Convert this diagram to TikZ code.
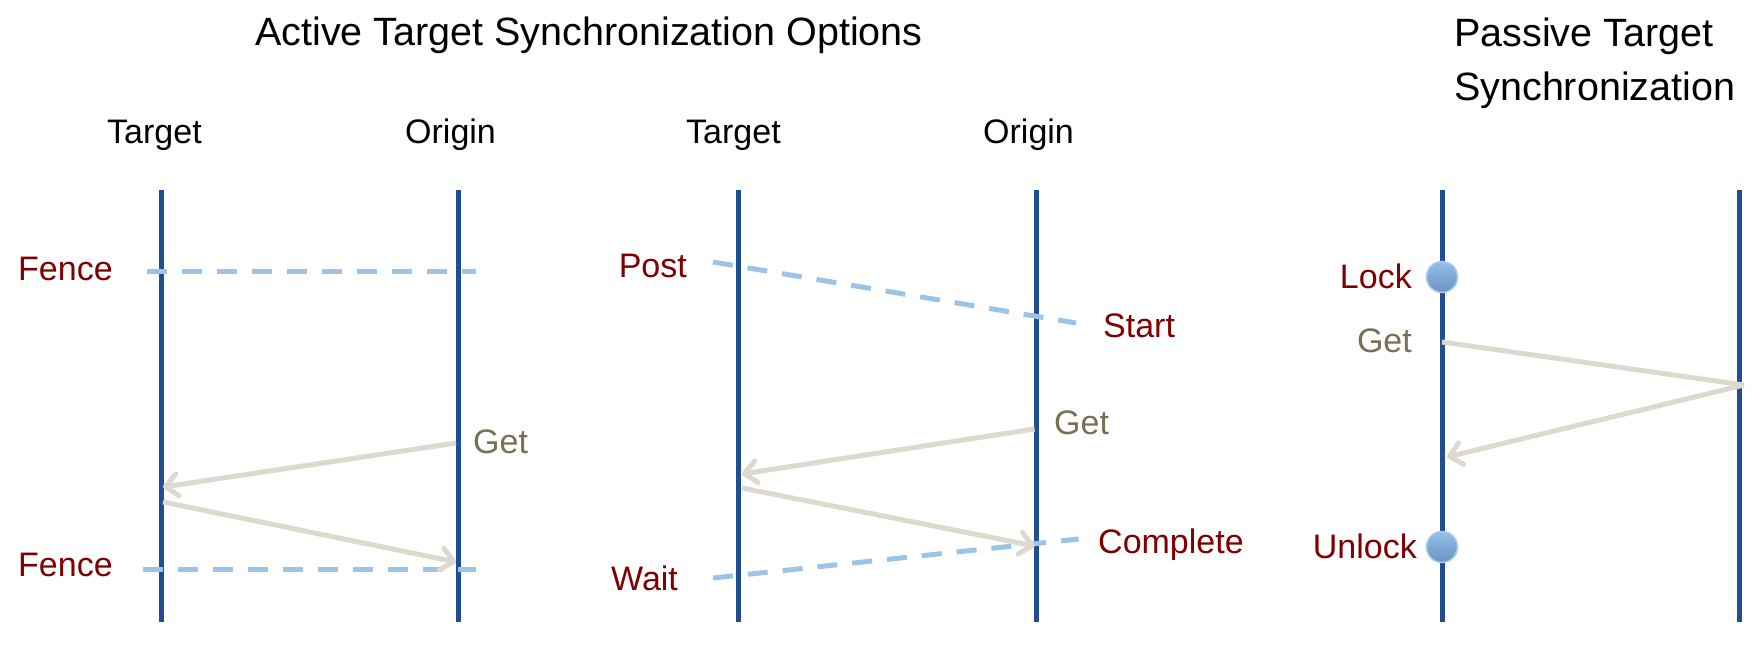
\documentclass[tikz,border=0pt]{standalone}
\usepackage{fontspec}
\setmainfont{Liberation Sans}
\usetikzlibrary{arrows.meta}
\definecolor{lifeblue}{HTML}{1F4E93}
\definecolor{dashblue}{HTML}{9DC3E6}
\definecolor{msgtan}{HTML}{DDD9CE}
\definecolor{labred}{HTML}{7F0000}
\definecolor{getgray}{HTML}{777056}
\definecolor{balltop}{HTML}{92C0EA}
\definecolor{ballbot}{HTML}{6C94C2}
\definecolor{ballrim}{HTML}{A9CBEB}
\tikzset{
  lifeline/.style={draw=lifeblue, line width=5pt},
  syncline/.style={draw=dashblue, line width=5pt, dash pattern=on 20pt off 15pt},
  msg/.style={draw=msgtan, line width=5pt, -{Straight Barb[length=12pt,width=22pt,line cap=round,line join=round]}},
  msgplain/.style={draw=msgtan, line width=5pt},
  titletext/.style={inner sep=0pt, font=\fontsize{39.5}{47}\selectfont},
  coltext/.style={inner sep=0pt, font=\fontsize{34}{41}\selectfont},
  synctext/.style={inner sep=0pt, text=labred, font=\fontsize{34}{41}\selectfont},
  gettext/.style={inner sep=0pt, text=getgray, font=\fontsize{34}{41}\selectfont},
  lockball/.style={circle, inner sep=0pt, minimum size=31pt, draw=ballrim, line width=1.5pt, top color=balltop, bottom color=ballbot}
}
\begin{document}
\begin{tikzpicture}[x=1pt,y=-1pt]
\useasboundingbox (0,0) rectangle (1759,647);
% titles
\node[titletext, anchor=base west] (t1) at (255,46) {Active Target Synchronization Options};
\node[titletext, anchor=base west] (t2a) at (1454,46.7) {Passive Target};
\node[titletext, anchor=base west] (t2b) at (1454,101) {Synchronization};
% column labels
\node[coltext, anchor=base west] (c1) at (107,144) {Target};
\node[coltext, anchor=base west] (c2) at (405,144) {Origin};
\node[coltext, anchor=base west] (c3) at (686,144) {Target};
\node[coltext, anchor=base west] (c4) at (983,144) {Origin};
% lifelines
\coordinate (a1t) at (161,190);   \coordinate (a1b) at (161,622);
\coordinate (a2t) at (458.5,190); \coordinate (a2b) at (458.5,622);
\coordinate (b1t) at (738.5,190); \coordinate (b1b) at (738.5,622);
\coordinate (b2t) at (1036.5,190);\coordinate (b2b) at (1036.5,622);
\coordinate (p1t) at (1442,190);  \coordinate (p1b) at (1442,622);
\coordinate (p2t) at (1739,190);  \coordinate (p2b) at (1739,622);
\foreach \t/\b in {a1t/a1b,a2t/a2b,b1t/b1b,b2t/b2b,p1t/p1b,p2t/p2b}
  \draw[lifeline] (\t) -- (\b);
% ---- Fence panel
\coordinate (f1s) at (146.7,271); \coordinate (f1e) at (476,271);
\coordinate (f2s) at (143,569);   \coordinate (f2e) at (476,569);
\draw[syncline] (f1s) -- (f1e);
\draw[syncline] (f2s) -- (f2e);
\node[synctext, anchor=base west] (fence1) at (18,280) {Fence};
\node[synctext, anchor=base west] (fence2) at (18,576) {Fence};
\coordinate (ga1) at (456,443); \coordinate (ga2) at (163,487);
\coordinate (ga3) at (163,502); \coordinate (ga4) at (456,562);
\draw[msg] (ga1) -- (ga2);
\draw[msg] (ga3) -- (ga4);
\node[gettext, anchor=base west] (get1) at (473,453) {Get};
% ---- Post/Start/Complete/Wait panel
\coordinate (ps) at (713,262); \coordinate (pe) at (1076,323);
\coordinate (ws) at (713,578); \coordinate (we) at (1078.6,539);
\draw[syncline] (ps) -- (pe);
\draw[syncline] (ws) -- (we);
\node[synctext, anchor=base west] (post) at (618.6,277) {Post};
\node[synctext, anchor=base west] (start) at (1103,337) {Start};
\node[synctext, anchor=base west] (wait) at (611,590) {Wait};
\node[synctext, anchor=base west] (compl) at (1098,553) {Complete};
\coordinate (gb1) at (1034.6,429); \coordinate (gb2) at (742,474);
\coordinate (gb3) at (742,488);    \coordinate (gb4) at (1034.6,546);
\draw[msg] (gb1) -- (gb2);
\draw[msg] (gb3) -- (gb4);
\node[gettext, anchor=base west] (get2) at (1054,434) {Get};
% ---- Passive panel
\coordinate (gc1) at (1442,342); \coordinate (gc2) at (1744,385); \coordinate (gc3) at (1447,457);
\draw[msgplain] (gc1) -- (gc2);
\draw[msg] (gc2) -- (gc3);
\node[lockball] (lock) at (1442,277) {};
\node[lockball] (unlock) at (1442,547) {};
\node[synctext, anchor=base east] (locktxt) at (1412,288) {Lock};
\node[gettext, anchor=base east] (get3) at (1412,352) {Get};
\node[synctext, anchor=base east] (unlocktxt) at (1417,558) {Unlock};
\end{tikzpicture}
\end{document}
